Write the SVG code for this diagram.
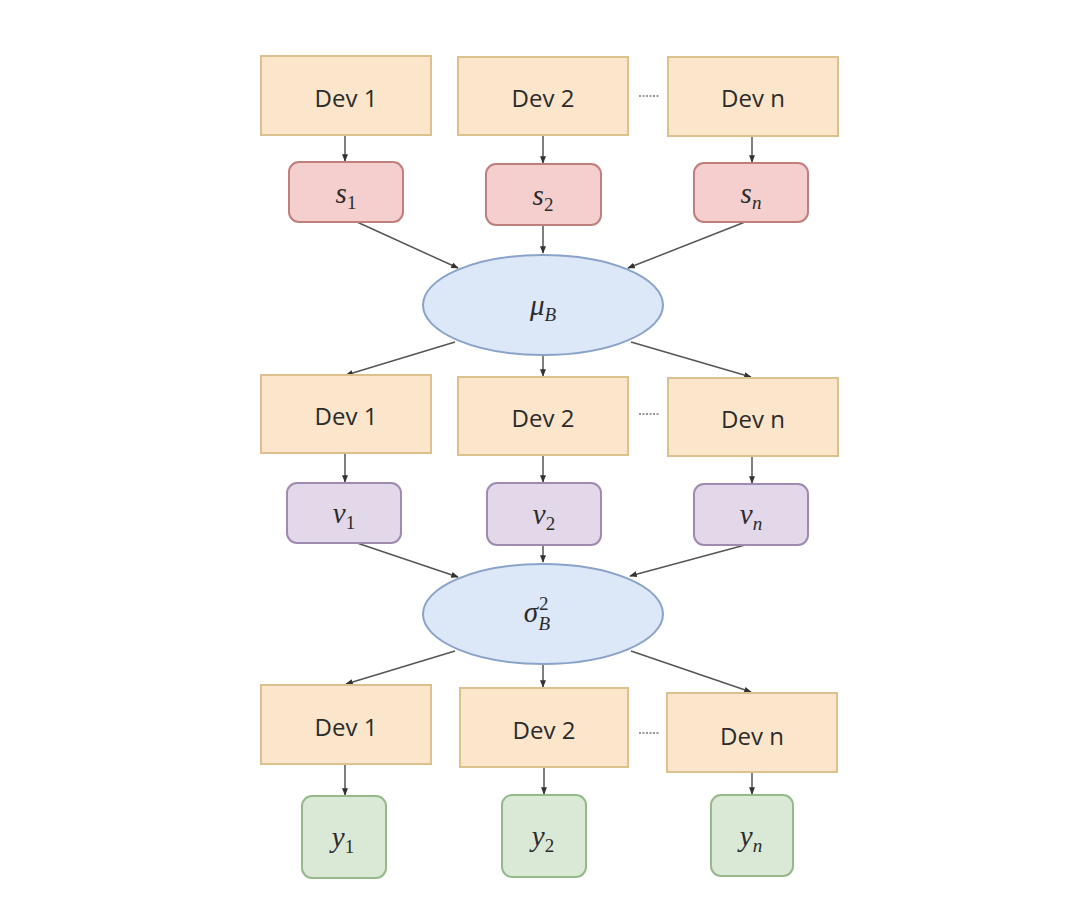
<svg xmlns="http://www.w3.org/2000/svg" width="1080" height="910" viewBox="0 0 1080 910">
<style>
.dev{fill:#fce6cb;stroke:#dcc08e;stroke-width:2}
.s{fill:#f5cfcd;stroke:#bf7f7c;stroke-width:2}
.v{fill:#e3d7ea;stroke:#a08ab0;stroke-width:2}
.y{fill:#d9e9d6;stroke:#96b98c;stroke-width:2}
.ell{fill:#dce7f8;stroke:#8aa3c8;stroke-width:2}
.t{font-family:"Open Sans","Liberation Sans",sans-serif;font-size:24px;fill:#2b2b2b;text-anchor:middle}
.m{font-family:"Liberation Serif","DejaVu Serif",serif;font-style:italic;font-size:29px;fill:#2b2b2b;text-anchor:middle}
.sub{font-size:19px;font-style:normal}
.subi{font-size:19px}
.c{stroke:#555;stroke-width:1.5;fill:none;marker-end:url(#a)}
.d{stroke:#777;stroke-width:1.5;stroke-dasharray:2 1.5;fill:none}
</style>
<defs>
<marker id="a" viewBox="0 0 10 10" refX="9" refY="5" markerWidth="5" markerHeight="5" orient="auto">
<path d="M0,1 L10,5 L0,9 z" fill="#333"/>
</marker>
</defs>
<rect width="1080" height="910" fill="#fff"/>
<g id="connectors">
<line class="c" x1="345" y1="135" x2="345" y2="161"/>
<line class="c" x1="543" y1="135" x2="543" y2="163"/>
<line class="c" x1="752" y1="136" x2="752" y2="162"/>
<line class="c" x1="357" y1="222" x2="458" y2="268"/>
<line class="c" x1="543" y1="225" x2="543" y2="253"/>
<line class="c" x1="745" y1="222" x2="628" y2="268"/>
<line class="c" x1="455" y1="342" x2="346" y2="375"/>
<line class="c" x1="543" y1="355" x2="543" y2="376"/>
<line class="c" x1="631" y1="342" x2="751" y2="377"/>
<line class="c" x1="345" y1="453" x2="345" y2="482"/>
<line class="c" x1="543" y1="455" x2="543" y2="482"/>
<line class="c" x1="752" y1="456" x2="752" y2="483"/>
<line class="c" x1="357" y1="543" x2="458" y2="577"/>
<line class="c" x1="543" y1="545" x2="543" y2="562"/>
<line class="c" x1="745" y1="545" x2="630" y2="576"/>
<line class="c" x1="455" y1="651" x2="346" y2="684"/>
<line class="c" x1="543" y1="664" x2="543" y2="687"/>
<line class="c" x1="631" y1="651" x2="751" y2="692"/>
<line class="c" x1="345" y1="764" x2="345" y2="795"/>
<line class="c" x1="544" y1="767" x2="544" y2="794"/>
<line class="c" x1="752" y1="772" x2="752" y2="794"/>
<line class="d" x1="639" y1="96" x2="659" y2="96"/>
<line class="d" x1="639" y1="414" x2="659" y2="414"/>
<line class="d" x1="639" y1="733" x2="659" y2="733"/>
</g>
<g id="dev1a"><rect class="dev" x="261" y="56" width="170" height="79"/><text class="t" x="346" y="107">Dev 1</text></g>
<g id="dev2a"><rect class="dev" x="458" y="57" width="170" height="78"/><text class="t" x="543" y="107">Dev 2</text></g>
<g id="devna"><rect class="dev" x="668" y="57" width="170" height="79"/><text class="t" x="753" y="107">Dev n</text></g>
<g id="s1"><rect class="s" x="289" y="162" width="114" height="60" rx="10"/><text class="m" x="346" y="203">s<tspan class="sub" dy="6">1</tspan></text></g>
<g id="s2"><rect class="s" x="486" y="164" width="115" height="61" rx="10"/><text class="m" x="543" y="205">s<tspan class="sub" dy="6">2</tspan></text></g>
<g id="sn"><rect class="s" x="694" y="163" width="114" height="59" rx="10"/><text class="m" x="751" y="203">s<tspan class="subi" dy="6">n</tspan></text></g>
<g id="mu"><ellipse class="ell" cx="543" cy="305" rx="120" ry="50"/><text class="m" x="543" y="315">μ<tspan class="subi" dy="6">B</tspan></text></g>
<g id="dev1b"><rect class="dev" x="261" y="375" width="170" height="78"/><text class="t" x="346" y="425">Dev 1</text></g>
<g id="dev2b"><rect class="dev" x="458" y="377" width="170" height="78"/><text class="t" x="543" y="427">Dev 2</text></g>
<g id="devnb"><rect class="dev" x="668" y="378" width="170" height="78"/><text class="t" x="753" y="428">Dev n</text></g>
<g id="v1"><rect class="v" x="287" y="483" width="114" height="60" rx="10"/><text class="m" x="344" y="523">v<tspan class="sub" dy="6">1</tspan></text></g>
<g id="v2"><rect class="v" x="487" y="483" width="114" height="62" rx="10"/><text class="m" x="544" y="524">v<tspan class="sub" dy="6">2</tspan></text></g>
<g id="vn"><rect class="v" x="694" y="484" width="114" height="61" rx="10"/><text class="m" x="751" y="524">v<tspan class="subi" dy="6">n</tspan></text></g>
<g id="sigma"><ellipse class="ell" cx="543" cy="614" rx="120" ry="50"/><text class="m" x="537" y="622">σ<tspan class="sub" dx="1" dy="-12">2</tspan><tspan class="subi" dx="-10" dy="20">B</tspan></text></g>
<g id="dev1c"><rect class="dev" x="261" y="685" width="170" height="79"/><text class="t" x="346" y="736">Dev 1</text></g>
<g id="dev2c"><rect class="dev" x="460" y="688" width="168" height="79"/><text class="t" x="544" y="739">Dev 2</text></g>
<g id="devnc"><rect class="dev" x="667" y="693" width="170" height="79"/><text class="t" x="752" y="745">Dev n</text></g>
<g id="y1"><rect class="y" x="302" y="796" width="84" height="82" rx="10"/><text class="m" x="343" y="847">y<tspan class="sub" dy="6">1</tspan></text></g>
<g id="y2"><rect class="y" x="502" y="795" width="84" height="82" rx="10"/><text class="m" x="543" y="846">y<tspan class="sub" dy="6">2</tspan></text></g>
<g id="yn"><rect class="y" x="711" y="795" width="82" height="81" rx="10"/><text class="m" x="751" y="846">y<tspan class="subi" dy="6">n</tspan></text></g>
</svg>
